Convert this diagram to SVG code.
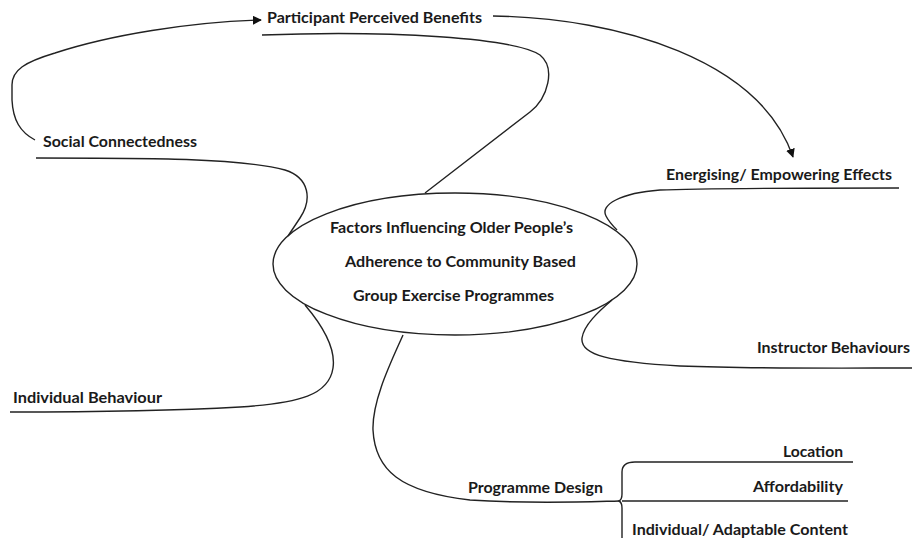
<svg xmlns="http://www.w3.org/2000/svg" width="912" height="538" viewBox="0 0 912 538">
<style>
.t{font-family:Lato,"Open Sans","Liberation Sans",sans-serif;font-weight:700;font-size:14.5px;fill:#1a1a1a}
.c{fill:none;stroke:#222;stroke-width:1.4}
</style>
<defs>
<marker id="ah" viewBox="0 0 10 10" refX="9" refY="5" markerWidth="9" markerHeight="9" markerUnits="userSpaceOnUse" orient="auto">
<path d="M0,0 L10,5 L0,10 Z" fill="#111"/>
</marker>
</defs>
<rect width="912" height="538" fill="#fff"/>
<g id="connectors">
<path class="c" d="M35,140 C20,132 13,120 12,100 L12,85 C12,70 25,62 55,53 C110,35 190,22 261,20" marker-end="url(#ah)"/>
<path class="c" d="M493,16 C620,18 760,60 793,157" marker-end="url(#ah)"/>
<path class="c" d="M262,35 C390,30 515,38 540,55 C556,68 548,98 530,112 L425,193"/>
<path class="c" d="M36,158 C150,158 240,158 285,170 C310,178 312,200 300,218 C296,224 292,230 288,236"/>
<path class="c" d="M305,305 C322,325 336,348 333,368 C329,395 300,403 240,407 C150,412 60,412 10,412"/>
<path class="c" d="M403,335 C392,360 372,400 373,430 C375,470 400,492 470,500 C530,504 580,502 619,501"/>
<path class="c" d="M899,188 C800,188 700,188 660,190 C620,193 600,205 606,216 C609,222 613,226 617,230"/>
<path class="c" d="M612,300 C598,312 584,325 582,338 C580,355 610,362 680,366 C760,369 850,368 912,368"/>
<path class="c" d="M853,462 L635,462 C626,462 622,466 622,472 L622,494 C622,498 621,500 619,501 C621,502 622,504 622,508 L622,540"/>
<path class="c" d="M622,501 L848,501"/>
</g>
<g id="center">
<ellipse class="c" cx="455" cy="264" rx="182" ry="71"/>
<text class="t" x="330" y="233" textLength="243" lengthAdjust="spacingAndGlyphs">Factors Influencing Older People’s</text>
<text class="t" x="345" y="267" textLength="231" lengthAdjust="spacingAndGlyphs">Adherence to Community Based</text>
<text class="t" x="353" y="301" textLength="201" lengthAdjust="spacingAndGlyphs">Group Exercise Programmes</text>
</g>
<g id="participant-benefits"><text class="t" x="267" y="23" textLength="215" lengthAdjust="spacingAndGlyphs">Participant Perceived Benefits</text></g>
<g id="social-connectedness"><text class="t" x="43" y="147" textLength="154" lengthAdjust="spacingAndGlyphs">Social Connectedness</text></g>
<g id="energising"><text class="t" x="666" y="180" textLength="226" lengthAdjust="spacingAndGlyphs">Energising/ Empowering Effects</text></g>
<g id="instructor"><text class="t" x="757" y="353" textLength="153" lengthAdjust="spacingAndGlyphs">Instructor Behaviours</text></g>
<g id="individual-behaviour"><text class="t" x="13" y="403" textLength="149" lengthAdjust="spacingAndGlyphs">Individual Behaviour</text></g>
<g id="programme-design"><text class="t" x="468" y="493" textLength="135" lengthAdjust="spacingAndGlyphs">Programme Design</text></g>
<g id="location"><text class="t" x="783" y="457" textLength="60" lengthAdjust="spacingAndGlyphs">Location</text></g>
<g id="affordability"><text class="t" x="753" y="492" textLength="90" lengthAdjust="spacingAndGlyphs">Affordability</text></g>
<g id="adaptable-content"><text class="t" x="632" y="535" textLength="216" lengthAdjust="spacingAndGlyphs">Individual/ Adaptable Content</text></g>
</svg>
